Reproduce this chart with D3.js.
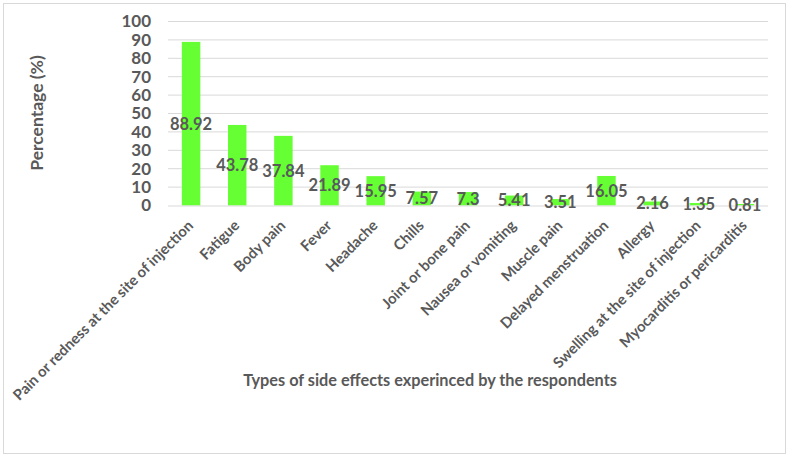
<!DOCTYPE html>
<html>
<head>
<meta charset="utf-8">
<script src="https://cdn.jsdelivr.net/npm/d3@7"></script>
<style>
  body { margin: 0; background: #fff; }
  text { font-family: Lato, "Open Sans", sans-serif; font-weight: bold; fill: #595959; }
</style>
</head>
<body>
<div id="chart-area"></div>
<script>
// side effects and percentages
var effects = ["Pain or redness at the site of injection", "Fatigue", "Body pain", "Fever",
    "Headache", "Chills", "Joint or bone pain", "Nausea or vomiting", "Muscle pain",
    "Delayed menstruation", "Allergy", "Swelling at the site of injection",
    "Myocarditis or pericarditis"];
var percents = [88.92, 43.78, 37.84, 21.89, 15.95, 7.57, 7.3, 5.41, 3.51, 16.05, 2.16, 1.35, 0.81];
var yTicks = [0, 10, 20, 30, 40, 50, 60, 70, 80, 90, 100];

var W = 789, H = 457;
var margin = { left: 168, right: 21, top: 21.5, bottom: 251.5 };
var width = W - margin.left - margin.right,
    height = H - margin.top - margin.bottom;

var svg = d3.select("#chart-area")
    .append("svg")
        .attr("width", W)
        .attr("height", H);

// outer chart border
svg.append("rect")
    .attr("x", 3.5).attr("y", 3.5)
    .attr("width", W - 7).attr("height", H - 7)
    .attr("fill", "none")
    .attr("stroke", "#d9d9d9");

var g = svg.append("g")
    .attr("transform", "translate(" + margin.left + "," + margin.top + ")");

var x = d3.scaleBand()
    .domain(effects)
    .range([0, width])
    .paddingInner(0.6)
    .paddingOuter(0.3);

var y = d3.scaleLinear()
    .domain([0, 100])
    .range([height, 0]);

// gridlines
g.append("g")
    .selectAll("line")
    .data(yTicks.slice(1))
    .enter().append("line")
        .attr("x1", 0).attr("x2", width)
        .attr("y1", function(d){ return y(d); })
        .attr("y2", function(d){ return y(d); })
        .attr("stroke", "#d9d9d9")
        .attr("stroke-width", 1);

// Y axis
var yAxisCall = d3.axisLeft(y)
    .tickValues(yTicks)
    .tickSize(0)
    .tickPadding(17);
var yAxis = g.append("g").call(yAxisCall);
yAxis.select(".domain").remove();
yAxis.selectAll("text")
    .attr("font-size", "17px")
    .style("font-family", "Lato, sans-serif")
    .attr("fill", "#595959");

// bars
g.selectAll("rect.bar")
    .data(percents)
    .enter().append("rect")
        .attr("class", "bar")
        .attr("x", function(d, i){ return x(effects[i]); })
        .attr("width", x.bandwidth())
        .attr("y", function(d){ return y(d); })
        .attr("height", function(d){ return height - y(d); })
        .attr("fill", "#66ff33");

// X axis
var xAxisCall = d3.axisBottom(x).tickSize(0).tickPadding(0);
var xAxis = g.append("g")
    .attr("transform", "translate(0," + height + ")")
    .call(xAxisCall);
xAxis.select(".domain")
    .attr("stroke", "#d9d9d9")
    .attr("d", "M0,0.5H" + width);
xAxis.selectAll("text")
    .attr("font-size", "14.8px")
    .style("font-family", "Lato, sans-serif")
    .attr("fill", "#595959")
    .attr("text-anchor", "end")
    .attr("dy", null)
    .attr("y", 0)
    .attr("transform", "translate(3,21) rotate(-45)");

// data labels, centred in the bars
g.selectAll("text.label")
    .data(percents)
    .enter().append("text")
        .attr("class", "label")
        .attr("x", function(d, i){ return x(effects[i]) + x.bandwidth() / 2; })
        .attr("y", function(d){ return (y(d) + height) / 2; })
        .attr("dy", "0.36em")
        .attr("text-anchor", "middle")
        .attr("font-size", "16.5px")
        .text(function(d){ return d; });

// Labels
svg.append("text")
    .attr("x", 430)
    .attr("y", 386)
    .attr("font-size", "16.3px")
    .attr("text-anchor", "middle")
    .text("Types of side effects experinced by the respondents");
svg.append("text")
    .attr("transform", "translate(43,113) rotate(-90)")
    .attr("font-size", "17.5px")
    .attr("text-anchor", "middle")
    .text("Percentage (%)");
</script>
</body>
</html>
